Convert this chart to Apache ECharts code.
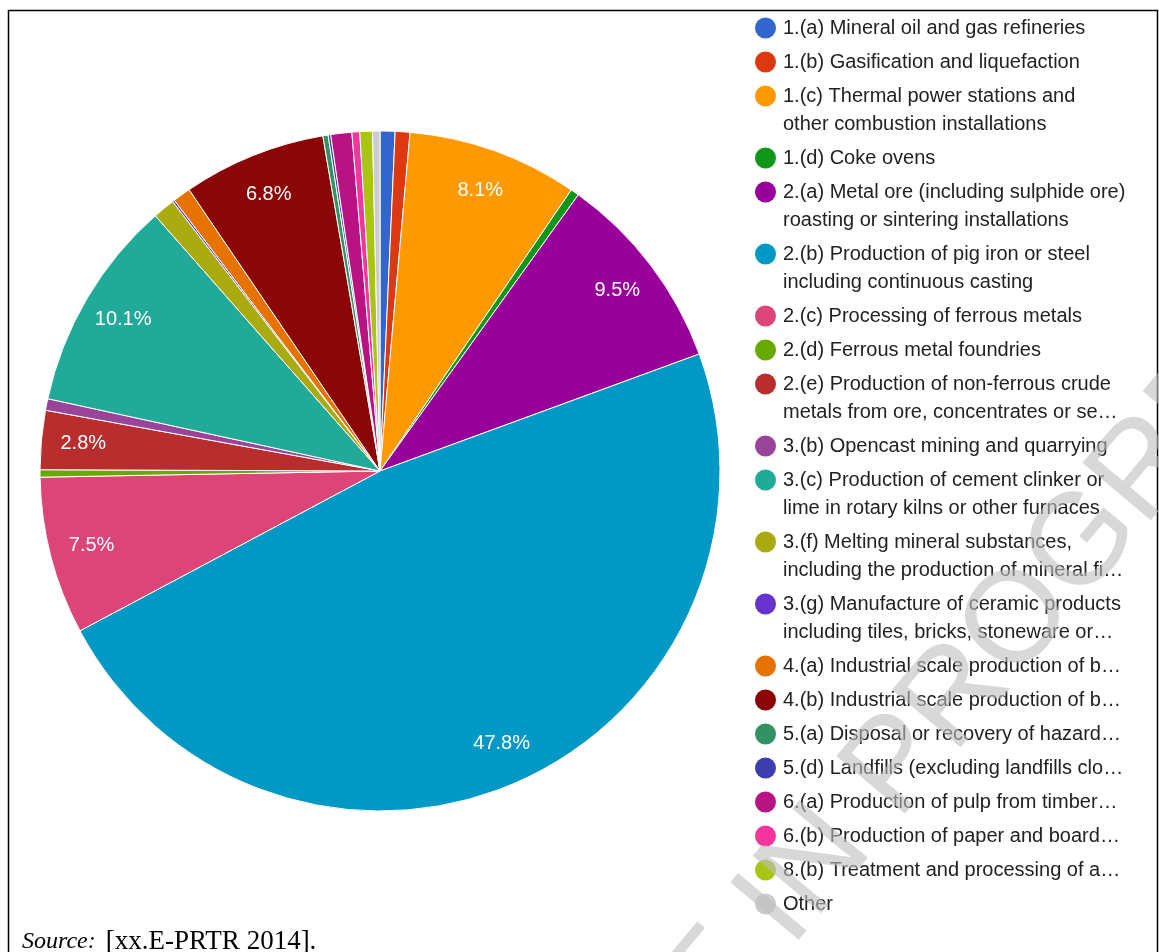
<!DOCTYPE html>
<html>
<head>
<meta charset="utf-8">
<script src="https://cdn.jsdelivr.net/npm/echarts@6/dist/echarts.min.js"></script>
<style>
html, body { margin: 0; padding: 0; background: #fff; }
#container { width: 1159px; height: 952px; }
</style>
</head>
<body>
<div id="container"></div>
<script>
// activity names as shown in the legend (\n = where the legend wraps)
const categories = [
    '1.(a) Mineral oil and gas refineries',
    '1.(b) Gasification and liquefaction',
    '1.(c) Thermal power stations and\nother combustion installations',
    '1.(d) Coke ovens',
    '2.(a) Metal ore (including sulphide ore)\nroasting or sintering installations',
    '2.(b) Production of pig iron or steel\nincluding continuous casting',
    '2.(c) Processing of ferrous metals',
    '2.(d) Ferrous metal foundries',
    '2.(e) Production of non-ferrous crude\nmetals from ore, concentrates or se…',
    '3.(b) Opencast mining and quarrying',
    '3.(c) Production of cement clinker or\nlime in rotary kilns or other furnaces',
    '3.(f) Melting mineral substances,\nincluding the production of mineral fi…',
    '3.(g) Manufacture of ceramic products\nincluding tiles, bricks, stoneware or…',
    '4.(a) Industrial scale production of b…',
    '4.(b) Industrial scale production of b…',
    '5.(a) Disposal or recovery of hazard…',
    '5.(d) Landfills (excluding landfills clo…',
    '6.(a) Production of pulp from timber…',
    '6.(b) Production of paper and board…',
    '8.(b) Treatment and processing of a…',
    'Other'
]
// share of total (%), small slices
const shares = [0.71, 0.70, 8.1, 0.40, 9.5, 47.8, 7.5, 0.35, 2.8, 0.55, 10.1,
    1.05, 0.10, 0.85, 6.8, 0.25, 0.12, 1.0, 0.37, 0.60, 0.35]
const colors = ['#3366cc', '#dc3912', '#ff9900', '#109618', '#990099', '#0099c6',
    '#dd4477', '#66aa00', '#b82e2e', '#994499', '#22aa99', '#aaaa11', '#6633cc',
    '#e67300', '#8b0707', '#329262', '#3b3eac', '#b91383', '#f4359e', '#a9c413', '#cccccc']
const labelMin = 2   // slices below this % get no text
const sourceText = '[xx.E-PRTR 2014].'
const watermark = 'DRAFT IN PROGRESS'

const font = 'Arial, "Liberation Sans", sans-serif'
const serif = '"Liberation Serif", "Times New Roman", serif'
const center = [380, 471]

let seriesData = categories.map((name, i) => ({
    name: name,
    value: shares[i],
    itemStyle: { color: colors[i] }
}))

// legend dots are drawn inside the rich text so they stay on the first line
let legendRich = { g: { width: 7 }, ind: { width: 28 } }
colors.forEach((c, i) => {
    legendRich['c' + i] = { width: 21, height: 21, borderRadius: 10.5, backgroundColor: c }
})

let options = {
    animation: false,
    legend: {
        orient: 'vertical',
        left: 748,
        top: 14,
        padding: 0,
        itemGap: 6,
        itemWidth: 1,
        itemHeight: 1,
        icon: 'circle',
        itemStyle: { opacity: 0 },
        data: categories,
        formatter: (name) => {
            let i = categories.indexOf(name)
            let lines = name.split('\n')
            let txt = '{c' + i + '|}{g|}' + lines[0]
            if (lines[1]) txt += '\n{ind|}' + lines[1]
            return txt
        },
        textStyle: {
            fontSize: 20,
            lineHeight: 28,
            color: '#222',
            fontFamily: font,
            rich: legendRich
        }
    },
    series: [
        {
            type: 'pie',
            center: center,
            radius: 340,
            startAngle: 90,
            data: seriesData,
            itemStyle: { borderColor: '#fff', borderWidth: 1 },
            label: { show: false },
            labelLine: { show: false },
            emphasis: { disabled: true }
        },
        {
            // label ring only, placed near the rim like the original
            type: 'pie',
            center: center,
            radius: [250, 340],
            startAngle: 90,
            silent: true,
            percentPrecision: 1,
            data: categories.map((name, i) => ({ name: name, value: shares[i] })),
            itemStyle: { color: 'transparent', borderWidth: 0 },
            label: {
                show: true,
                position: 'inside',
                color: '#fff',
                fontSize: 20,
                fontFamily: font,
                formatter: (p) => p.percent >= labelMin ? p.percent.toFixed(1) + '%' : ''
            },
            labelLine: { show: false }
        }
    ],
    graphic: [
        {
            type: 'rect',
            shape: { x: 8.5, y: 10.5, width: 1149, height: 1000 },
            style: { fill: 'none', stroke: '#000', lineWidth: 1.5 },
            silent: true
        },
        {
            type: 'text',
            x: 22,
            y: 928,
            style: {
                text: '{i|Source:}{s|}{n|' + sourceText + '}',
                rich: {
                    i: { fontSize: 24, fontStyle: 'italic', fontFamily: serif, fill: '#000' },
                    s: { width: 10 },
                    n: { fontSize: 27, fontFamily: serif, fill: '#000' }
                },
                fontSize: 24,
                fontFamily: serif,
                fill: '#000'
            }
        },
        {
            type: 'text',
            x: 903,
            y: 760,
            z: 100,
            rotation: 50 * Math.PI / 180,
            silent: true,
            style: {
                text: watermark,
                fontSize: 130,
                fontFamily: font,
                fill: 'rgba(190,190,190,0.6)',
                align: 'center',
                verticalAlign: 'middle'
            }
        }
    ]
}

let mychart = echarts.init(document.getElementById('container'))
mychart.setOption(options)
window.addEventListener('resize', () => { mychart.resize() })
</script>
</body>
</html>
